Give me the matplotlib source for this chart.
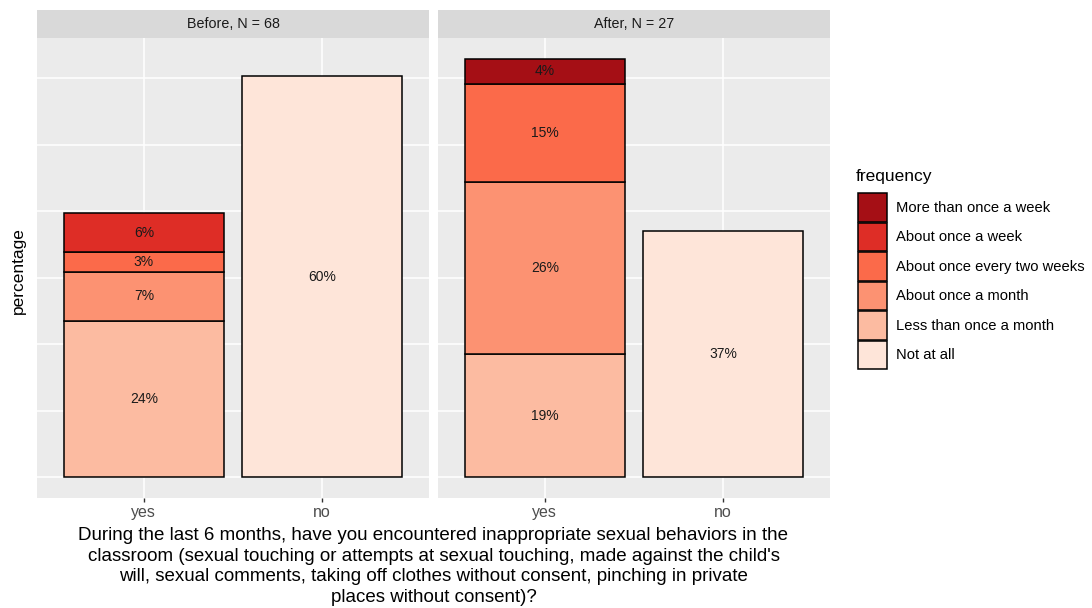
import matplotlib
matplotlib.use("Agg")
import matplotlib.pyplot as plt
from matplotlib.patches import Patch

plt.rcParams['font.family'] = ['Liberation Sans', 'DejaVu Sans']

# ---- data ----
facets = ["Before, N = 68", "After, N = 27"]
answers = ["yes", "no"]
frequency_levels = ["More than once a week", "About once a week",
                    "About once every two weeks", "About once a month",
                    "Less than once a month", "Not at all"]
frequency_colors = ["#A50F15", "#DE2D26", "#FB6A4A", "#FC9272", "#FCBBA1", "#FEE5D9"]
# stacking order bottom -> top
stack_order = ["Not at all", "Less than once a month", "About once a month",
               "About once every two weeks", "About once a week", "More than once a week"]

before_yes = {"Less than once a month": 23.5, "About once a month": 7.4,
              "About once every two weeks": 2.9, "About once a week": 5.9}
before_no = {"Not at all": 60.3}
after_yes = {"Less than once a month": 18.5, "About once a month": 25.9,
             "About once every two weeks": 14.8, "More than once a week": 3.7}
after_no = {"Not at all": 37.0}

panel_data = [[before_yes, before_no], [after_yes, after_no]]

x_title = ("During the last 6 months, have you encountered inappropriate sexual behaviors in the\n"
           "classroom (sexual touching or attempts at sexual touching, made against the child's\n"
           "will, sexual comments, taking off clothes without consent, pinching in private\n"
           "places without consent)?")

color_of = dict(zip(frequency_levels, frequency_colors))

W, H = 1092, 608
fig = plt.figure(figsize=(W / 100, H / 100), dpi=100)
fig.patch.set_facecolor("white")

panel_x = [(37, 429), (438, 830)]
panel_top, panel_bot = 38, 498
strip_top = 10

ymax_all = max(sum(d.values()) for pd_ in panel_data for d in pd_)
ylo, yhi = -0.05 * ymax_all, ymax_all * 1.05

for i, (x0, x1) in enumerate(panel_x):
    ax = fig.add_axes([x0 / W, 1 - panel_bot / H, (x1 - x0) / W, (panel_bot - panel_top) / H])
    ax.set_facecolor("#EBEBEB")
    ax.set_xlim(0.4, 2.6)
    ax.set_ylim(ylo, yhi)
    for s in ax.spines.values():
        s.set_visible(False)
    ax.set_yticks([])
    for gy in range(0, 70, 10):
        ax.axhline(gy, color="white", lw=1.1, zorder=0)
    for gx in [1, 2]:
        ax.axvline(gx, color="white", lw=1.1, zorder=0)
    for j, ans in enumerate(answers):
        d = panel_data[i][j]
        bottom = 0.0
        for lvl in stack_order:
            if lvl not in d:
                continue
            v = d[lvl]
            ax.bar(j + 1, v, bottom=bottom, width=0.9, color=color_of[lvl],
                   edgecolor="black", linewidth=1.1, zorder=2)
            ax.text(j + 1, bottom + v / 2, f"{int(v + 0.5):d}%", ha="center", va="center",
                    fontsize=10, color="#1A1A1A", zorder=3)
            bottom += v
    ax.set_xticks([1, 2])
    ax.set_xticklabels(answers, fontsize=11.5, color="#4D4D4D")
    ax.tick_params(axis="x", length=3, width=1, color="#333333", pad=2)
    # strip
    sx = fig.add_axes([x0 / W, 1 - panel_top / H, (x1 - x0) / W, (panel_top - strip_top) / H])
    sx.set_facecolor("#D9D9D9")
    sx.set_xticks([]); sx.set_yticks([])
    for s in sx.spines.values():
        s.set_visible(False)
    sx.text(0.5, 0.5, facets[i], ha="center", va="center", fontsize=10.3, color="#1A1A1A",
            transform=sx.transAxes)

fig.text(433.5 / W, 1 - 527 / H, x_title, ha="center", va="top", fontsize=13.5,
         color="black", linespacing=1.27)
fig.text(18 / W, 1 - 271 / H, "percentage", rotation=90, ha="center", va="center",
         fontsize=12.5, color="black")

fig.text(856 / W, 1 - 176 / H, "frequency", ha="left", va="center",
         fontsize=12.5, color="black")
handles = [Patch(facecolor=c, edgecolor="black", linewidth=1.1) for c in frequency_colors]
leg = fig.legend(handles, frequency_levels, loc="upper left",
                 bbox_to_anchor=(858 / W, 1 - 193 / H), frameon=False,
                 fontsize=10.6,
                 handlelength=1.95, handleheight=2.63, labelspacing=0.05,
                 handletextpad=0.6, borderpad=0, borderaxespad=0)

fig.savefig("out.png", dpi=100)
